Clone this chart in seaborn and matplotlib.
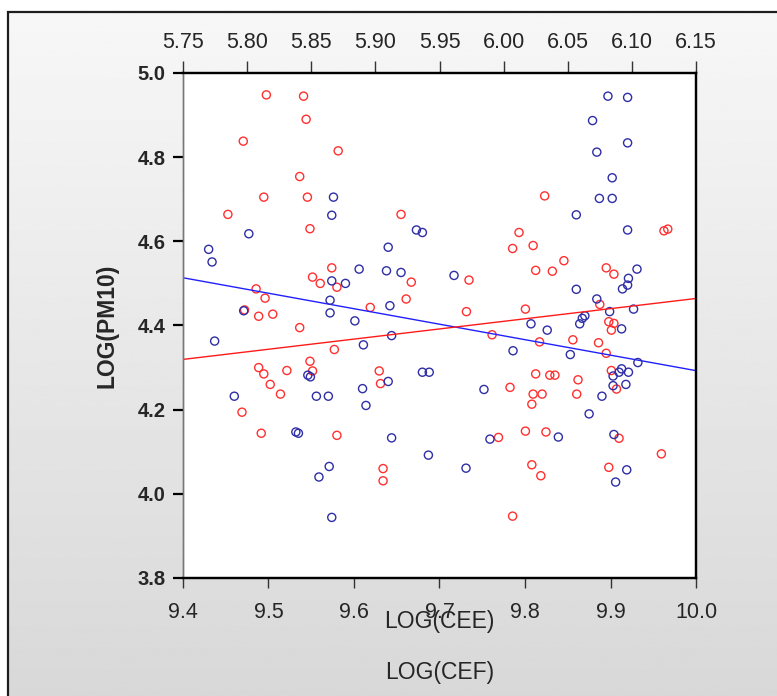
import numpy as np
import pandas as pd
import matplotlib
matplotlib.use('Agg')
import matplotlib.pyplot as plt
from matplotlib.patches import Rectangle
import seaborn as sns

# LOG(CEE) vs LOG(PM10)  (blue, bottom axis)
cee = [9.576, 9.574, 9.477, 9.430, 9.434, 9.574, 9.590, 9.572, 9.572, 9.471,
       9.437, 9.546, 9.549, 9.460, 9.556, 9.570, 9.532, 9.535, 9.571, 9.559,
       9.574, 9.860, 9.673, 9.680, 9.640, 9.606, 9.638, 9.655, 9.717, 9.642,
       9.860, 9.601, 9.807, 9.826, 9.864, 9.611, 9.644, 9.786, 9.853, 9.680,
       9.688, 9.640, 9.610, 9.614, 9.752, 9.644, 9.759, 9.839, 9.687, 9.731,
       9.897, 9.920, 9.879, 9.920, 9.884, 9.902, 9.887, 9.902, 9.920, 9.931,
       9.921, 9.920, 9.914, 9.884, 9.899, 9.927, 9.870, 9.867, 9.913, 9.932,
       9.913, 9.921, 9.910, 9.903, 9.918, 9.903, 9.890, 9.875, 9.904, 9.919,
       9.906]
pm10_cee = [4.705, 4.662, 4.618, 4.581, 4.551, 4.506, 4.500, 4.460, 4.430, 4.435,
            4.363, 4.282, 4.278, 4.232, 4.232, 4.232, 4.147, 4.144, 4.065, 4.040,
            3.944, 4.663, 4.627, 4.621, 4.586, 4.534, 4.530, 4.526, 4.519, 4.447,
            4.486, 4.411, 4.404, 4.389, 4.404, 4.354, 4.376, 4.340, 4.331, 4.289,
            4.289, 4.267, 4.250, 4.210, 4.248, 4.133, 4.130, 4.135, 4.092, 4.061,
            4.945, 4.942, 4.887, 4.834, 4.812, 4.751, 4.702, 4.702, 4.627, 4.534,
            4.512, 4.496, 4.487, 4.463, 4.433, 4.439, 4.423, 4.417, 4.392, 4.312,
            4.297, 4.289, 4.289, 4.280, 4.260, 4.257, 4.232, 4.190, 4.141, 4.057,
            4.028]

# LOG(CEF) vs LOG(PM10)  (red, top axis)
cef = [5.815, 5.844, 5.846, 5.797, 5.871, 5.841, 5.813, 5.847, 5.785, 5.849,
       5.866, 5.851, 5.857, 5.870, 5.807, 5.814, 5.798, 5.809, 5.820, 5.841,
       5.868, 5.849, 5.809, 5.813, 5.831, 5.851, 5.818, 5.826, 5.796, 5.811,
       5.870, 6.032, 5.920, 6.012, 6.023, 6.007, 6.047, 6.025, 6.038, 5.928,
       5.973, 5.924, 5.896, 5.971, 6.017, 5.991, 6.028, 6.054, 5.903, 5.904,
       6.025, 6.036, 6.040, 6.058, 6.005, 6.023, 6.030, 6.022, 6.057, 5.996,
       6.017, 6.033, 6.022, 6.029, 5.906, 5.906, 6.007, 6.125, 6.128, 6.080,
       6.086, 6.075, 6.082, 6.086, 6.084, 6.074, 6.080, 6.084, 6.088, 6.090,
       6.123, 6.082]
pm10_cef = [4.948, 4.945, 4.890, 4.838, 4.815, 4.754, 4.705, 4.705, 4.664, 4.630,
            4.537, 4.515, 4.500, 4.491, 4.487, 4.465, 4.437, 4.422, 4.427, 4.395,
            4.343, 4.315, 4.300, 4.285, 4.293, 4.292, 4.260, 4.237, 4.194, 4.144,
            4.139, 4.708, 4.664, 4.621, 4.590, 4.583, 4.554, 4.531, 4.529, 4.503,
            4.508, 4.463, 4.443, 4.433, 4.439, 4.378, 4.361, 4.366, 4.292, 4.262,
            4.285, 4.282, 4.282, 4.271, 4.253, 4.237, 4.237, 4.213, 4.237, 4.134,
            4.149, 4.147, 4.069, 4.043, 4.060, 4.031, 3.947, 4.625, 4.629, 4.537,
            4.522, 4.450, 4.409, 4.405, 4.389, 4.359, 4.334, 4.293, 4.249, 4.132,
            4.095, 4.063]

df_cee = pd.DataFrame({'LOG(CEE)': cee, 'LOG(PM10)': pm10_cee})
df_cef = pd.DataFrame({'LOG(CEF)': cef, 'LOG(PM10)': pm10_cef})

sns.set_style("ticks")
plt.rcParams['font.family'] = ['Liberation Sans', 'DejaVu Sans']

BLUE_PT, BLUE_LN = '#2e2ea6', '#2020ff'
RED_PT, RED_LN = '#ff3030', '#ff1a1a'

fig = plt.figure(figsize=(7.77, 6.96), dpi=100)

# grey gradient panel with dark frame (EViews style)
bg = fig.add_axes([0, 0, 1, 1], zorder=-10)
grad = np.linspace(247, 216, 256)[:, None] / 255
bg.imshow(grad, cmap='gray', vmin=0, vmax=1, aspect='auto',
          extent=[8 / 777, 1, 0, 1 - 12 / 696])
bg.add_patch(Rectangle((8 / 777, -0.1), 1, 1.1 - 12 / 696, fill=False,
                       ec='#1e1e1e', lw=1.6))
bg.set_xlim(0, 1)
bg.set_ylim(0, 1)
bg.axis('off')

ax = fig.add_axes([183 / 777, 1 - 578 / 696, 513 / 777, 505 / 696])
ax2 = ax.twiny()

ax.set_xlim(9.4, 10.0)
ax.set_ylim(3.8, 5.0)
ax2.set_xlim(5.75, 6.15)

# red series on the top axis (EViews draws its fit line in blue)
sns.scatterplot(data=df_cef, x='LOG(CEF)', y='LOG(PM10)', ax=ax2, marker='o',
                s=34, facecolor='none', edgecolor=RED_PT, linewidth=1.0)
sns.regplot(data=df_cef, x='LOG(CEF)', y='LOG(PM10)', ax=ax2, scatter=False,
            ci=None, truncate=False, color=BLUE_LN, line_kws={'lw': 1.0})

# blue series on the bottom axis (fit line in red)
sns.scatterplot(data=df_cee, x='LOG(CEE)', y='LOG(PM10)', ax=ax, marker='o',
                s=34, facecolor='none', edgecolor=BLUE_PT, linewidth=1.0)
sns.regplot(data=df_cee, x='LOG(CEE)', y='LOG(PM10)', ax=ax, scatter=False,
            ci=None, truncate=False, color=RED_LN, line_kws={'lw': 1.0})

ax.set_xlim(9.4, 10.0)
ax.set_ylim(3.8, 5.0)
ax2.set_xlim(5.75, 6.15)

# blue drawn above red
ax.set_zorder(ax2.get_zorder() + 1)
ax.patch.set_visible(False)
ax2.patch.set_visible(True)
ax2.patch.set_facecolor('white')

ax.set_xticks(np.round(np.arange(9.4, 10.01, 0.1), 1))
ax.set_xticklabels([f'{v:.1f}' for v in np.arange(9.4, 10.01, 0.1)])
ax.set_yticks(np.round(np.arange(3.8, 5.01, 0.2), 1))
ax.set_yticklabels([f'{v:.1f}' for v in np.arange(3.8, 5.01, 0.2)],
                   fontweight='bold')
ax2.set_xticks(np.round(np.arange(5.75, 6.151, 0.05), 2))
ax2.set_xticklabels([f'{v:.2f}' for v in np.arange(5.75, 6.151, 0.05)])

ax.tick_params(axis='x', direction='out', length=7.2, width=1, color='#333333',
               pad=10, labelsize=15.5)
ax.tick_params(axis='y', direction='out', length=7.2, width=1.6, color='black',
               pad=5.5, labelsize=14.5)
ax2.tick_params(axis='x', direction='out', length=8.6, width=1, color='#333333',
                pad=6, labelsize=15.5)

for a in (ax, ax2):
    for side in ('top', 'right', 'bottom'):
        a.spines[side].set_visible(True)
        a.spines[side].set_color('black')
        a.spines[side].set_linewidth(1.6)
    a.spines['left'].set_color('#777777')
    a.spines['left'].set_linewidth(1.0)

ax.set_xlabel('LOG(CEE)', fontsize=16.5)
ax.xaxis.set_label_coords(0.5, -0.087)
ax.xaxis.label.set_va('center')
ax2.set_xlabel('LOG(CEF)', fontsize=16.5)
ax2.xaxis.set_label_position('bottom')
ax2.xaxis.set_label_coords(0.5, -0.188)
ax2.xaxis.label.set_va('center')
ax.set_ylabel('LOG(PM10)', fontsize=16.5, fontweight='bold')
ax.yaxis.set_label_coords(-0.148, 0.5)
ax.yaxis.label.set_va('center')

fig.savefig('out.png', dpi=100)
